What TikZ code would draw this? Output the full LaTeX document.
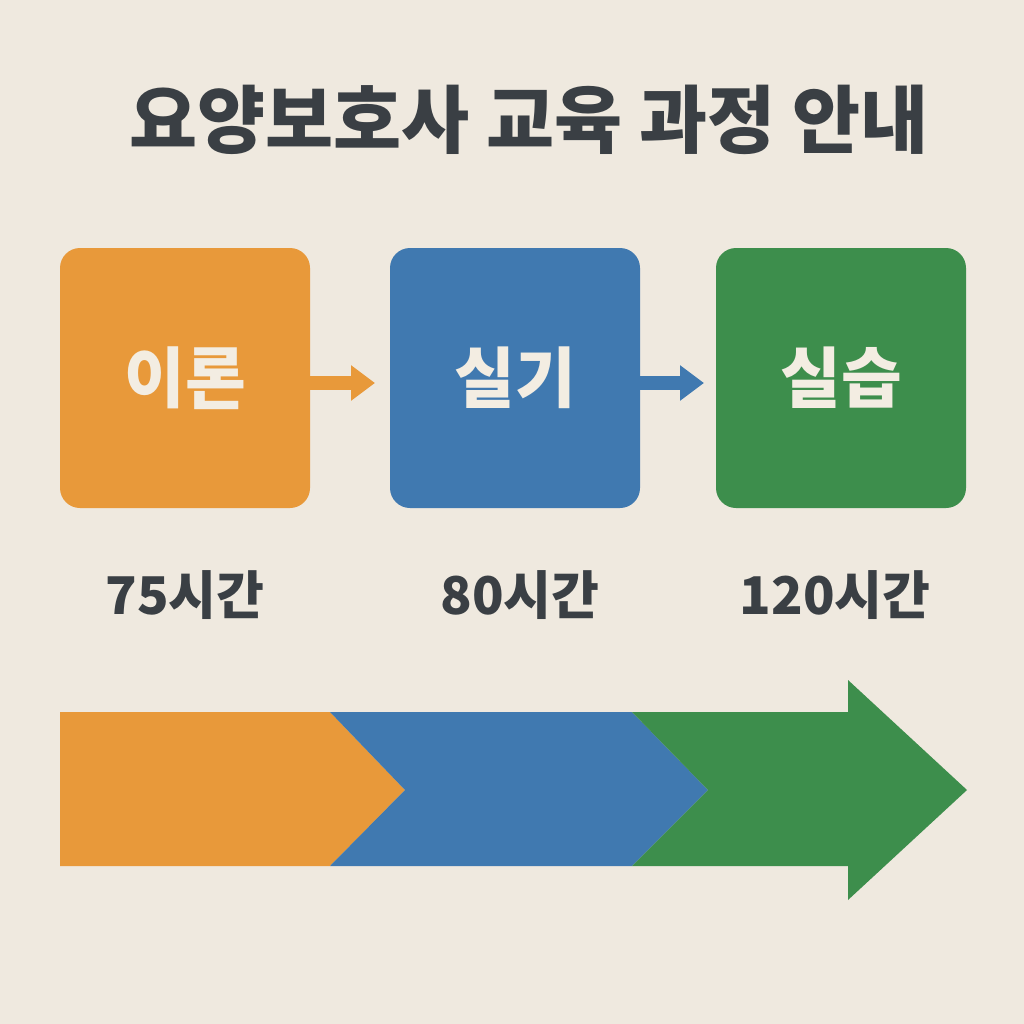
\documentclass[tikz,border=0pt]{standalone}
\usepackage{fontspec}
\setmainfont{Noto Sans CJK KR}
\definecolor{bg}{HTML}{EFE9DF}
\definecolor{ora}{HTML}{E8993A}
\definecolor{blu}{HTML}{4079B0}
\definecolor{grn}{HTML}{3D8E4C}
\definecolor{txt}{HTML}{3A3F44}
\definecolor{lt}{HTML}{F3EDE2}
\begin{document}
\begin{tikzpicture}[x=1pt,y=-1pt,
  stage/.style={rounded corners=20pt,minimum width=250pt,minimum height=260pt,inner sep=0pt,text=lt,font=\fontsize{66}{70}\selectfont\bfseries},
  hours/.style={text=txt,font=\fontsize{52}{56}\selectfont\bfseries},
  link/.style={line width=14pt,-{Triangle[length=24pt,width=34pt]}}]
\usetikzlibrary{arrows.meta}
\fill[bg] (0,0) rectangle (1024,1024);
\useasboundingbox (0,0) rectangle (1024,1024);
\node[text=txt,font=\fontsize{74}{78}\selectfont\bfseries] (title) at (529,120) {요양보호사 교육 과정 안내};
\node[stage,fill=ora] (a) at (185,378) {이론};
\node[stage,fill=blu] (b) at (515,378) {실기};
\node[stage,fill=grn] (c) at (841,378) {실습};
\draw[link,ora] (a.east|-0,383) -- (375,383) coordinate (ae);
\draw[link,blu] (b.east|-0,383) -- (704,383) coordinate (be);
\node[hours] (ha) at (185,595) {75시간};
\node[hours] (hb) at (520,595) {80시간};
\node[hours] (hc) at (835,595) {120시간};
\fill[ora] (60,712) -- (330,712) -- (405,790) -- (330,866) -- (60,866) -- cycle;
\fill[blu] (330,712) -- (632,712) -- (708,790) -- (632,866) -- (330,866) -- (405,790) -- cycle;
\fill[grn] (632,712) -- (848,712) -- (848,680) -- (967,790) -- (848,900) -- (848,866) -- (632,866) -- (708,790) -- cycle;
\end{tikzpicture}
\end{document}
